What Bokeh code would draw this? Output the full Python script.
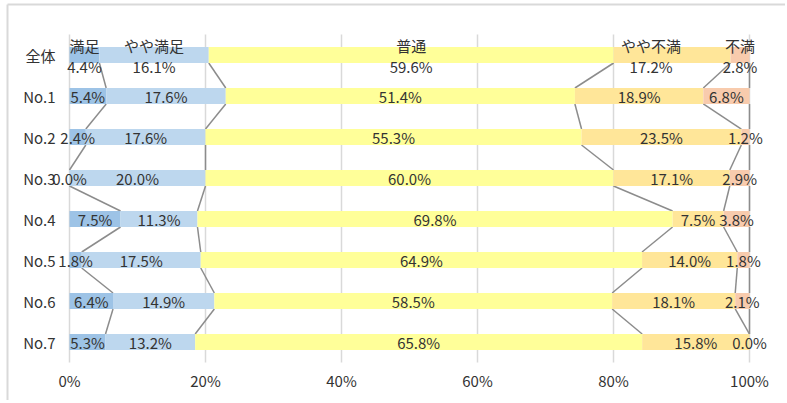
from bokeh.plotting import figure
from bokeh.models import Range1d
from bokeh.embed import file_html
from bokeh.resources import INLINE
from bokeh.core.properties import value

categories = ["全体", "No.1", "No.2", "No.3", "No.4", "No.5", "No.6", "No.7"]
series_names = ["満足", "やや満足", "普通", "やや不満", "不満"]
satisfied = [4.4, 5.4, 2.4, 0.0, 7.5, 1.8, 6.4, 5.3]
somewhat_satisfied = [16.1, 17.6, 17.6, 20.0, 11.3, 17.5, 14.9, 13.2]
neutral = [59.6, 51.4, 55.3, 60.0, 69.8, 64.9, 58.5, 65.8]
somewhat_dissatisfied = [17.2, 18.9, 23.5, 17.1, 7.5, 14.0, 18.1, 15.8]
dissatisfied = [2.8, 6.8, 1.2, 2.9, 3.8, 1.8, 2.1, 0.0]
series_values = [satisfied, somewhat_satisfied, neutral, somewhat_dissatisfied, dissatisfied]
colors = ["#9DC3E6", "#BDD7EE", "#FFFF99", "#FFE699", "#F8CBAD"]
x_ticks = [0, 20, 40, 60, 80, 100]
x_tick_labels = ["0%", "20%", "40%", "60%", "80%", "100%"]

FONT = "Noto Sans CJK JP"
TXT = "#333333"
FS = "15px"
BAR_H = 0.39

# layout (pixels): 0% at x=69, 100% at x=749; rows 41px apart, plot area top at y=34
W, H = 785, 400
X0, PX_PER_PCT = 69, 6.8
TOP, ROW_PX = 34, 41

n = len(categories)
rows = list(range(n))
# 100% stacked: normalise each row
totals = [sum(s[i] for s in series_values) for i in rows]
lefts, rights = [], []
for i in rows:
    acc = 0.0
    l_row, r_row = [], []
    for s in series_values:
        l_row.append(acc / totals[i] * 100)
        acc += s[i]
        r_row.append(acc / totals[i] * 100)
    lefts.append(l_row)
    rights.append(r_row)

y_top = -0.5 - TOP / ROW_PX
y_bot = -0.5 + (H - TOP) / ROW_PX
p = figure(width=W, height=H, output_backend="svg", toolbar_location=None,
           x_range=Range1d(-X0 / PX_PER_PCT, (W - X0) / PX_PER_PCT),
           y_range=Range1d(y_bot, y_top),
           min_border=0)
p.outline_line_color = None
p.background_fill_color = "white"
p.border_fill_color = "white"
p.xaxis.visible = False
p.yaxis.visible = False
p.grid.visible = False

# chart-area border (left and top edges visible in the reference)
bx = (7 - X0) / PX_PER_PCT
by = -0.5 - (TOP - 4) / ROW_PX
p.segment(x0=[bx, bx], y0=[by, by], x1=[bx, 200], y1=[y_bot + 1, by],
          line_color="#D9D9D9", line_width=2)

# vertical gridlines
p.segment(x0=x_ticks, y0=[-0.5] * len(x_ticks), x1=x_ticks, y1=[n - 0.5] * len(x_ticks),
          line_color="#D9D9D9", line_width=1.5)

# x tick labels
p.text(x=x_ticks, y=[n - 0.5] * len(x_ticks), text=x_tick_labels, y_offset=18,
       text_align="center", text_baseline="middle",
       text_font=value(FONT), text_font_size=FS, text_color=TXT)

# category labels
p.text(x=[0] * n, y=rows, text=categories, x_offset=-14, text_align="right", text_baseline="middle",
       text_font=value(FONT), text_font_size=FS, text_color=TXT)

# series lines
for j in range(len(series_values)):
    xs0 = [rights[i][j] for i in rows[:-1]]
    xs1 = [rights[i + 1][j] for i in rows[:-1]]
    ys0 = [i + BAR_H / 2 for i in rows[:-1]]
    ys1 = [i + 1 - BAR_H / 2 for i in rows[:-1]]
    p.segment(x0=xs0, y0=ys0, x1=xs1, y1=ys1, line_color="#8C8C8C", line_width=1.5)

# bars
for j, s in enumerate(series_values):
    p.hbar(y=rows, left=[lefts[i][j] for i in rows], right=[rights[i][j] for i in rows],
           height=BAR_H, fill_color=colors[j], line_color=None)

# data labels (the total row shows series name above the value)
total_row_nudge = {3: -21}   # label of "やや不満" in the total row was moved left
lx, ly, lt, lxo, lyo = [], [], [], [], []
for j, s in enumerate(series_values):
    for i in rows:
        cx = (lefts[i][j] + rights[i][j]) / 2
        txt = "%.1f%%" % s[i]
        if i == 0:
            nud = total_row_nudge.get(j, 0)
            lx += [cx, cx]
            ly += [i, i]
            lt += [series_names[j], txt]
            lxo += [nud, nud]
            lyo += [-10, 11]
        else:
            lx.append(cx)
            ly.append(i)
            lt.append(txt)
            lxo.append(0)
            lyo.append(0)

p.text(x=lx, y=ly, text=lt, x_offset=lxo, y_offset=lyo, text_align="center", text_baseline="middle",
       text_font=value(FONT), text_font_size=FS, text_color=TXT)

open("out.html", "w").write(file_html(p, INLINE))
